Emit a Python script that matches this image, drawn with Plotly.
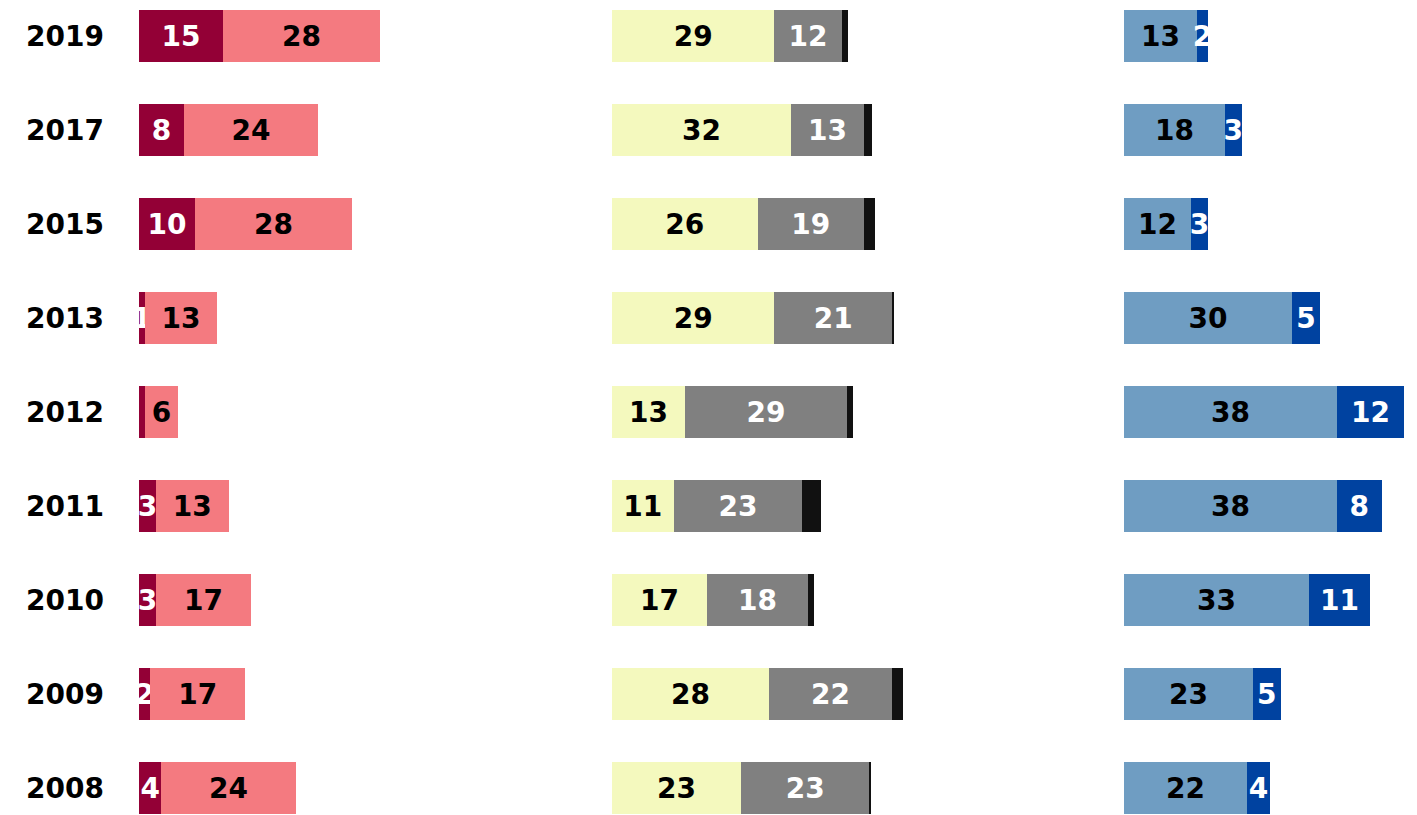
import plotly.graph_objects as go

years = ["2019", "2017", "2015", "2013", "2012", "2011", "2010", "2009", "2008"]

# Left panel
dark_red = [15, 8, 10, 1, 1, 3, 3, 2, 4]
dark_red_labels = ["15", "8", "10", "1", "", "3", "3", "2", "4"]
pink = [28, 24, 28, 13, 6, 13, 17, 17, 24]

# Middle panel
yellow = [29, 32, 26, 29, 13, 11, 17, 28, 23]
gray = [12, 13, 19, 21, 29, 23, 18, 22, 23]
black = [1.1, 1.4, 2, 0.3, 1.1, 3.4, 1.1, 2, 0.3]

# Right panel
light_blue = [13, 18, 12, 30, 38, 38, 33, 23, 22]
dark_blue = [2, 3, 3, 5, 12, 8, 11, 5, 4]

FONT = "DejaVu Sans"
FS = 28

def bar(x, color, xaxis, textcolor=None, labels=None, show=True):
    if show:
        kw = dict(
            text=labels if labels is not None else [str(v) for v in x],
            textposition="inside",
            insidetextanchor="middle",
            textangle=0,
            textfont=dict(family=FONT, size=FS, color=textcolor, weight="bold"),
        )
    else:
        kw = dict(textposition="none")
    return go.Bar(
        x=x, y=years, orientation="h", xaxis=xaxis, yaxis="y",
        marker=dict(color=color, line=dict(width=0)),
        showlegend=False, hoverinfo="x+y", **kw
    )

fig = go.Figure()
fig.add_trace(bar(dark_red, "#930036", "x", "white", dark_red_labels))
fig.add_trace(bar(pink, "#F47A80", "x", "black"))
fig.add_trace(bar(yellow, "#F4F9BE", "x2", "black"))
fig.add_trace(bar(gray, "#808080", "x2", "white"))
fig.add_trace(bar(black, "#111111", "x2", show=False))
fig.add_trace(bar(light_blue, "#6F9DC2", "x3", "black"))
fig.add_trace(bar(dark_blue, "#0042A0", "x3", "white"))

W = 1417.0
xcommon = dict(visible=False, showgrid=False, zeroline=False, fixedrange=True, anchor="y")

fig.update_layout(
    width=1417, height=815,
    margin=dict(l=0, r=0, t=0, b=0),
    paper_bgcolor="white", plot_bgcolor="white",
    barmode="stack", bargap=0.45,
    uniformtext=dict(minsize=FS, mode="show"),
    xaxis=dict(domain=[139 / W, 419 / W], range=[0, 50], **xcommon),
    xaxis2=dict(domain=[612 / W, 920 / W], range=[0, 55], **xcommon),
    xaxis3=dict(domain=[1124 / W, 1409.6 / W], range=[0, 51], **xcommon),
    yaxis=dict(
        type="category", categoryorder="array", categoryarray=years,
        range=[8.287, -0.383], anchor="x", fixedrange=True,
        showgrid=False, zeroline=False, showline=False,
        ticks="", ticklabelstandoff=34,
        tickfont=dict(family=FONT, size=FS, color="black", weight="bold"),
    ),
)

fig.write_html(
    "out.html",
    config={"displayModeBar": False},
    post_script="document.body.style.margin='0px';document.body.style.overflow='hidden';",
)
